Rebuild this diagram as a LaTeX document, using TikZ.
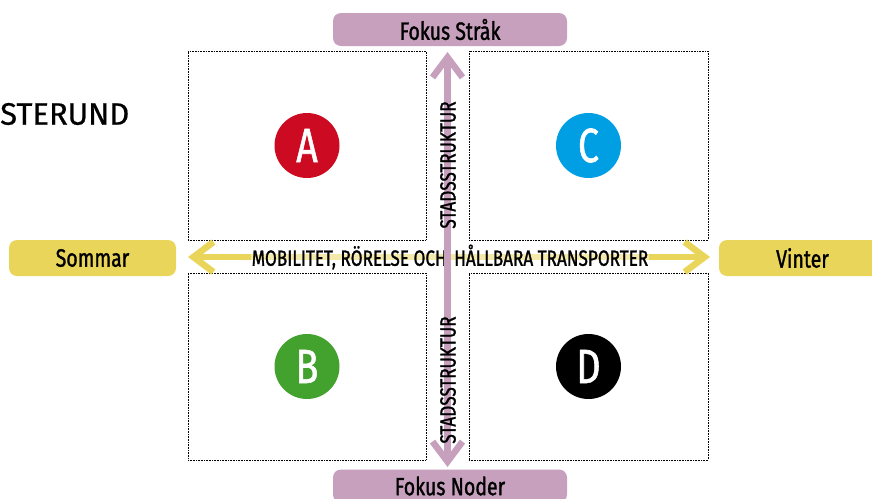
\documentclass[tikz,border=0pt]{standalone}
\usepackage{fontspec}
\usepackage{xcolor}
\usetikzlibrary{arrows.meta,positioning}
\newfontfamily\dinfont[FakeStretch=0.78,FakeBold=1.2]{Fira Sans}
\newfontfamily\titelfont[FakeBold=0.6]{Fira Sans}
\definecolor{fokuslila}{HTML}{C6A0BC}
\definecolor{sasgul}{HTML}{E9D55A}
\definecolor{rodA}{HTML}{CC0A22}
\definecolor{blaC}{HTML}{009FE3}
\definecolor{gronB}{HTML}{43A12E}

\begin{document}
\begin{tikzpicture}[x=1pt,y=-1pt,
    pill node/.style={rounded corners=8pt,inner sep=0pt,font=\dinfont\fontsize{25}{25}\selectfont},
    quad node/.style={draw,densely dotted,line width=0.6pt,minimum width=238pt,inner sep=0pt},
    main node/.style={circle,minimum size=65pt,inner sep=0pt,text=white,font=\dinfont\fontsize{48}{48}\selectfont},
    axis label/.style={inner sep=1pt,font=\dinfont\fontsize{22}{22}\selectfont},
    axis arrow/.style={line width=6.5pt,{Straight Barb[length=20pt,width=30pt]}-{Straight Barb[length=20pt,width=30pt]}}]

  \useasboundingbox (0,0) rectangle (872,498);
  \clip (0,0) rectangle (872,498);

  % the four fields
  \node[quad node,minimum height=189pt] (tl) at (307,145.5) {};
  \node[quad node,minimum width=239pt,minimum height=189pt] (tr) at (588.5,145.5) {};
  \node[quad node,minimum height=187pt] (bl) at (307,366.5) {};
  \node[quad node,minimum width=239pt,minimum height=187pt] (br) at (588.5,366.5) {};

  \coordinate (west) at (188,257);
  \coordinate (east) at (710,257);
  \coordinate (north) at (447.5,52);
  \coordinate (south) at (447.5,467);

  \draw[axis arrow,draw=sasgul] (west) -- (east);
  \node[axis label,fill=white,fill opacity=0.5,text opacity=1] (mob) at (450,257) {MOBILITET, RÖRELSE OCH\kern3pt{} HÅLLBARA TRANSPORTER};
  \draw[axis arrow,draw=fokuslila] (north) -- (south);

  \node[axis label,rotate=90] (stad1) at (448,165) {STADSSTRUKTUR};
  \node[axis label,rotate=90] (stad2) at (448,380) {STADSSTRUKTUR};

  \node[pill node,fill=fokuslila,minimum width=234pt,minimum height=33pt] (strak) at (450,29.5) {Fokus Stråk};
  \node[pill node,fill=fokuslila,minimum width=234pt,minimum height=33pt] (noder) at (450,486) {Fokus Noder};
  \node[pill node,fill=sasgul,minimum width=167pt,minimum height=36pt] (sommar) at (92.5,258) {Sommar};
  \node[pill node,fill=sasgul,minimum width=167pt,minimum height=36pt] (vinter) at (802.5,258) {Vinter};

  \node[main node,fill=rodA] (A) at (tl.center) {A};
  \node[main node,fill=blaC] (C) at (tr.center) {C};
  \node[main node,fill=gronB] (B) at (bl.center) {B};
  \node[main node,fill=black] (D) at (br.center) {D};

  \node[anchor=west,inner sep=0pt,font=\titelfont\fontsize{31}{31}\selectfont] (titel) at (0,114) {STERUND};
\end{tikzpicture}
\end{document}
